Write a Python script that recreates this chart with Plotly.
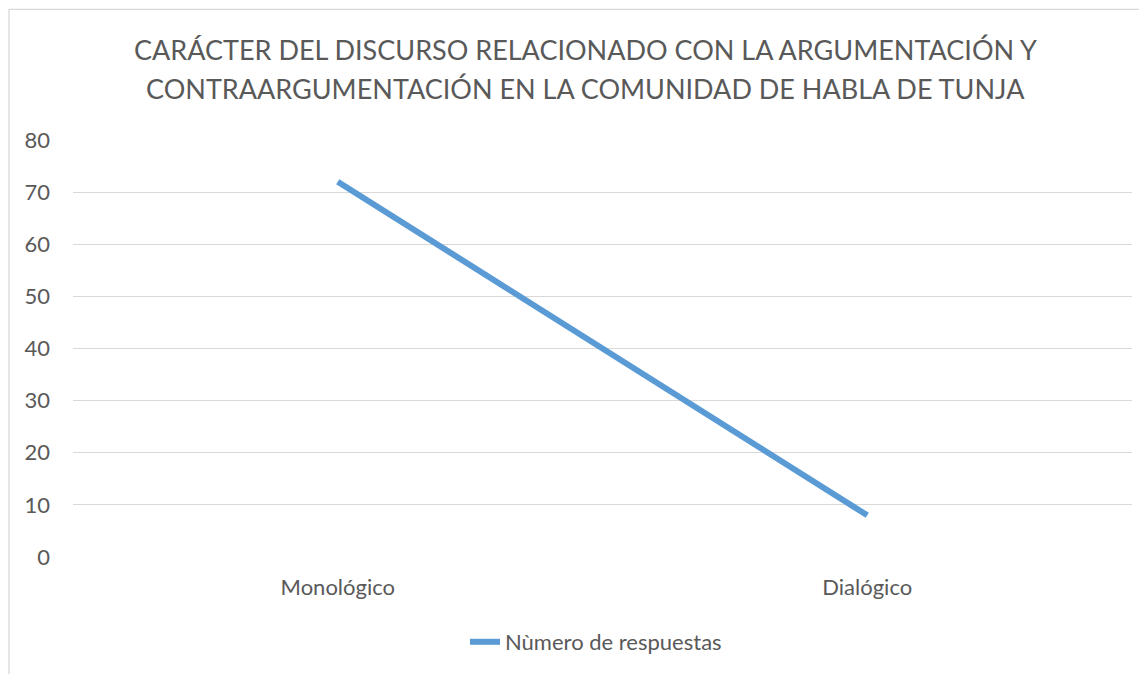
import plotly.graph_objects as go

categories = ["Monológico", "Dialógico"]
values = [72, 8]
series_name = "Nùmero de respuestas"
title_lines = ["CARÁCTER DEL DISCURSO RELACIONADO CON LA ARGUMENTACIÓN Y",
               "CONTRAARGUMENTACIÓN EN LA COMUNIDAD DE HABLA DE TUNJA"]

OFF = 8  # page body margin
W, H = 1147 - OFF, 674 - OFF
L, R, T, B = 73 - OFF, 15, 140 - OFF, 116
pw = W - L - R
ph = H - T - B

font_family = "Lato, 'Open Sans', sans-serif"
txt_color = "#595959"

fig = go.Figure()
fig.add_trace(go.Scatter(
    x=categories, y=values, mode="lines", name=series_name,
    line=dict(color="#5b9bd5", width=6),
    showlegend=True,
))

border_x = (9 - OFF - L) / pw
border_y = 1 + (T - (9 - OFF)) / ph
fig.add_shape(type="line", xref="paper", yref="paper",
              x0=border_x, x1=1 + (R + 20) / pw, y0=border_y, y1=border_y,
              line=dict(color="#d9d9d9", width=1.3))
fig.add_shape(type="line", xref="paper", yref="paper",
              x0=border_x, x1=border_x, y0=border_y, y1=-(B + 20) / ph,
              line=dict(color="#d9d9d9", width=1.3))

for i, (txt, yc) in enumerate(zip(title_lines, [49, 88])):
    fig.add_annotation(text=txt, xref="paper", yref="paper",
                       x=(585 - OFF - L) / pw, xanchor="center",
                       y=1 + (T - (yc - OFF)) / ph, yanchor="middle",
                       showarrow=False,
                       font=dict(size=27, color=txt_color, family=font_family))

fig.update_layout(
    width=W, height=H,
    margin=dict(l=L, r=R, t=T, b=B),
    paper_bgcolor="white", plot_bgcolor="white",
    font=dict(family=font_family, color=txt_color),
    xaxis=dict(type="category", range=[-0.5, 1.5], showgrid=False,
               zeroline=False, showline=False, ticks="",
               tickfont=dict(size=22, color=txt_color),
               ticklabelstandoff=15),
    yaxis=dict(range=[0, 80], dtick=10, showgrid=True, gridcolor="#d9d9d9",
               gridwidth=1.3, zeroline=False, showline=False, ticks="",
               tickfont=dict(size=22, color=txt_color),
               ticklabelstandoff=22),
    legend=dict(orientation="h", x=(465 - OFF - L) / pw, xanchor="left",
                y=-(642 - 558) / ph, yanchor="middle",
                font=dict(size=22, color=txt_color),
                bgcolor="rgba(0,0,0,0)"),
)

fig.write_html("out.html")
